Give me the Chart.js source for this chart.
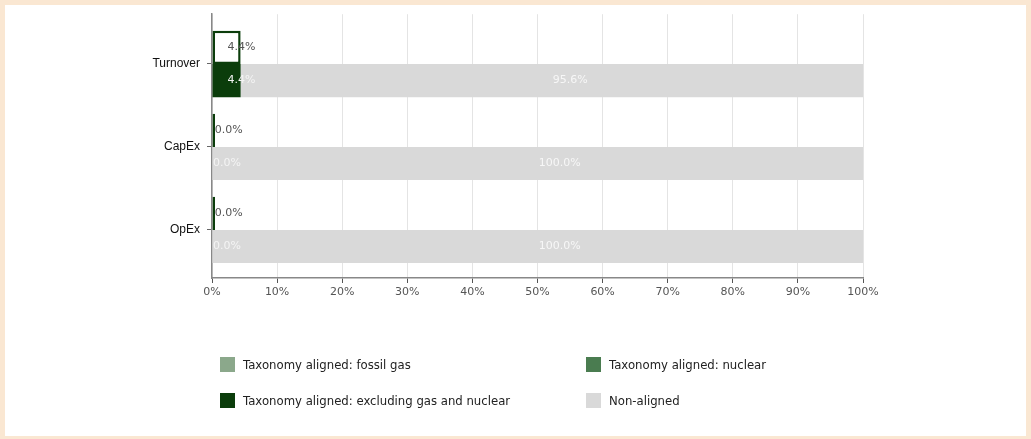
<!DOCTYPE html>
<html><head><meta charset="utf-8">
<script src="https://cdn.jsdelivr.net/npm/chart.js@4"></script>
<style>
html,body{margin:0;padding:0;}
body{width:1031px;height:439px;background:#fae7d2;position:relative;overflow:hidden;}
#panel{position:absolute;left:5px;top:5px;width:1021px;height:431px;background:#fff;}
#wrap{position:absolute;left:0;top:0;width:1031px;height:310px;}
#legend{position:absolute;left:0;top:0;width:1031px;height:439px;pointer-events:none;font-family:"DejaVu Sans",sans-serif;font-size:11.7px;color:#222;}
.li{position:absolute;height:15px;display:flex;align-items:center;white-space:nowrap;}
.sw{width:15px;height:15px;margin-right:8px;flex:none;}
</style></head><body>
<div id="panel"></div>
<div id="wrap"><canvas id="c" width="1031" height="310"></canvas></div>
<div id="legend"></div>
<script>
// ---- data ----
const categories = ['Turnover', 'CapEx', 'OpEx'];
const totalAligned = [4.4, 0.0, 0.0];
const fossilGas = [0.0, 0.0, 0.0];
const nuclear = [0.0, 0.0, 0.0];
const excludingGasNuclear = [4.4, 0.0, 0.0];
const nonAligned = [95.6, 100.0, 100.0];
const xTickLabels = ['0%', '10%', '20%', '30%', '40%', '50%', '60%', '70%', '80%', '90%', '100%'];
const legendLabels = ['Taxonomy aligned: fossil gas', 'Taxonomy aligned: nuclear', 'Taxonomy aligned: excluding gas and nuclear', 'Non-aligned'];

const DARK = '#0b3d0b';
const toPoints = arr => arr.map((v, i) => ({ x: v, y: i }));

const barLabels = {
  id: 'barLabels',
  afterDatasetsDraw(chart) {
    const ctx = chart.ctx;
    chart.data.datasets.forEach((ds, di) => {
      if (!ds.labelColor) return;
      const meta = chart.getDatasetMeta(di);
      meta.data.forEach((el, i) => {
        const v = ds.data[i].x;
        const cx = (el.x + el.base) / 2;
        ctx.save();
        ctx.font = '11px "DejaVu Sans"';
        ctx.fillStyle = ds.labelColor;
        ctx.textAlign = 'left';
        ctx.textBaseline = 'middle';
        ctx.fillText(v.toFixed(1) + '%', cx + 1, el.y);
        ctx.restore();
      });
    });
  }
};

const datasets = [
  { label: 'Total aligned', data: toPoints(totalAligned), stack: 'a', backgroundColor: '#ffffff', borderColor: DARK, borderWidth: 2.5, borderSkipped: false, minBarLength: 3, labelColor: '#555555', inLegend: false },
  { label: legendLabels[0], data: toPoints(fossilGas), stack: 'b', backgroundColor: '#8ba88b', borderWidth: 0, inLegend: true },
  { label: legendLabels[1], data: toPoints(nuclear), stack: 'b', backgroundColor: '#4a7c50', borderWidth: 0, inLegend: true },
  { label: legendLabels[2], data: toPoints(excludingGasNuclear), stack: 'b', backgroundColor: DARK, borderWidth: 0, labelColor: '#f4f4f4', inLegend: true },
  { label: legendLabels[3], data: toPoints(nonAligned), stack: 'b', backgroundColor: '#d9d9d9', borderWidth: 0, labelColor: '#f7f7f7', inLegend: true }
];

const chart = new Chart(document.getElementById('c'), {
  type: 'bar',
  data: { datasets },
  options: {
    indexAxis: 'y',
    responsive: false,
    animation: false,
    categoryPercentage: 0.8,
    barPercentage: 1.0,
    inflateAmount: 0,
    layout: { padding: { left: 0, right: 168, top: 14, bottom: 0 } },
    plugins: { legend: { display: false }, tooltip: { enabled: false } },
    scales: {
      x: {
        type: 'linear', stacked: true, min: 0, max: 100,
        ticks: { stepSize: 10, callback: (v, i) => xTickLabels[i], color: '#555', font: { family: 'DejaVu Sans', size: 11 }, padding: 3, maxRotation: 0 },
        grid: { color: '#e4e4e4', tickColor: '#555', tickLength: 5 },
        border: { color: '#888', width: 1.5 },
        afterFit(s) { s.height = 32; }
      },
      y: {
        type: 'linear', reverse: true, stacked: true, min: -0.6, max: 2.58, offset: false,
        ticks: { stepSize: 1, includeBounds: false, autoSkip: false, callback: v => (Number.isInteger(v) && categories[v] !== undefined) ? categories[v] : '', color: '#111', font: { family: 'Liberation Sans', size: 12 }, padding: 7 },
        grid: { offset: false, drawOnChartArea: false, tickLength: 5, tickColor: '#666' },
        border: { color: '#888', width: 1.5 },
        afterFit(s) { s.width = 212; }
      }
    }
  },
  plugins: [barLabels]
});

// HTML legend built from the datasets
const legendPos = [[220, 357], [586, 357], [220, 393], [586, 393]];
const legendEl = document.getElementById('legend');
datasets.filter(d => d.inLegend).forEach((d, k) => {
  const item = document.createElement('div');
  item.className = 'li';
  item.style.left = legendPos[k][0] + 'px';
  item.style.top = legendPos[k][1] + 'px';
  const sw = document.createElement('span');
  sw.className = 'sw';
  sw.style.background = d.backgroundColor;
  const tx = document.createElement('span');
  tx.textContent = d.label;
  item.appendChild(sw); item.appendChild(tx);
  legendEl.appendChild(item);
});
</script>
</body></html>
